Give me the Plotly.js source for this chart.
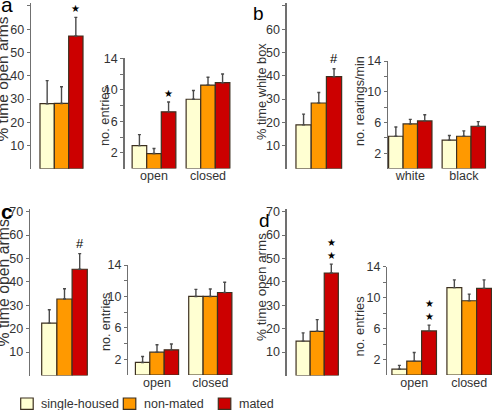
<!DOCTYPE html>
<html><head><meta charset="utf-8">
<script src="https://cdn.plot.ly/plotly-3.0.1.min.js"></script>
<style>html,body{margin:0;padding:0;background:#fff}#chart{width:492px;height:410px}</style>
</head><body><div id="chart"></div>
<script>
// ---- data ----
const groups = ['single-housed', 'non-mated', 'mated'];
const colors = ['#FFFFD2', '#FF9900', '#CC0000'];

// panel a
const aTimeOpen = [28.0, 28.1, 57.1];
const aTimeOpenErr = [9.9, 7.2, 8.0];
const aCats = ['open', 'closed'];
const aEntries = [[2.9, 8.8], [1.9, 10.6], [7.2, 10.9]];
const aEntriesErr = [[1.4, 1.1], [0.65, 1.0], [1.25, 1.1]];
// panel b
const bWhiteBox = [18.9, 28.3, 39.6];
const bWhiteBoxErr = [4.6, 4.5, 3.4];
const bCats = ['white', 'black'];
const bRearings = [[4.2, 3.7], [5.8, 4.2], [6.2, 5.5]];
const bRearingsErr = [[1.2, 0.6], [0.6, 0.7], [0.8, 0.6]];
// panel c
const cTimeOpen = [22.4, 32.7, 45.4];
const cTimeOpenErr = [5.7, 4.4, 6.7];
const cCats = ['open', 'closed'];
const cEntries = [[1.6, 10.0], [2.9, 10.0], [3.2, 10.5]];
const cEntriesErr = [[0.75, 0.9], [0.95, 0.95], [0.75, 1.3]];
// panel d
const dTimeOpen = [14.7, 18.9, 43.8];
const dTimeOpenErr = [3.5, 5.0, 3.8];
const dCats = ['open', 'closed'];
const dEntries = [[0.75, 11.3], [1.8, 9.6], [5.7, 11.2]];
const dEntriesErr = [[0.5, 1.0], [1.1, 0.85], [0.75, 1.1]];

const pctTicks = [10, 20, 30, 40, 50, 60, 70];
const cntTicks = [2, 4, 6, 8, 10, 12, 14];
const cntTickText = ['2', '', '6', '', '10', '', '14'];

// ---- layout helpers ----
const W = 492, H = 410, BARGAP = 0.19;
const FONT = 'Liberation Sans, Arial, sans-serif';
const outline = '#3d3020', errColor = '#4a4a4a', axisColor = '#707070', textColor = '#333';

const panels = [
  {n: '',  axisX: 31,    rightX: 95,  c0: 61.5,  cw: 53.1, zeroPx: 168.8, refVal: 70, refPx: 6,     top: 71.3, pct: true},
  {n: '2', axisX: 124.5, rightX: 245, c0: 154,   cw: 54,   zeroPx: 168.5, refVal: 14, refPx: 58.3,  top: 14,   pct: false, cats: aCats},
  {n: '3', axisX: 286.7, rightX: 352, c0: 318.8, cw: 56.4, zeroPx: 168.8, refVal: 70, refPx: 6,     top: 71.3, pct: true},
  {n: '4', axisX: 388,   rightX: 492, c0: 410.3, cw: 53.5, zeroPx: 168.5, refVal: 14, refPx: 61,    top: 14,   pct: false, cats: bCats},
  {n: '5', axisX: 30,    rightX: 100, c0: 64.5,  cw: 56.3, zeroPx: 375.5, refVal: 70, refPx: 211.7, top: 71.3, pct: true},
  {n: '6', axisX: 128.3, rightX: 245, c0: 157,   cw: 53.3, zeroPx: 375,   refVal: 14, refPx: 265,   top: 14,   pct: false, cats: cCats},
  {n: '7', axisX: 286.7, rightX: 352, c0: 317.2, cw: 52.2, zeroPx: 375.5, refVal: 70, refPx: 211.7, top: 71.3, pct: true},
  {n: '8', axisX: 387.3, rightX: 492, c0: 414.2, cw: 55,   zeroPx: 375,   refVal: 14, refPx: 266.7, top: 14,   pct: false, cats: dCats}
];

const traces = [];
function addBars(pi, cats, vals, errs) {
  const p = panels[pi];
  groups.forEach((g, i) => {
    traces.push({
      type: 'bar', name: g, x: cats, y: vals[i],
      xaxis: 'x' + p.n, yaxis: 'y' + p.n,
      marker: {color: colors[i], line: {color: outline, width: 1.2}},
      error_y: {type: 'data', symmetric: false, array: errs[i], arrayminus: cats.map(() => 0),
                color: errColor, thickness: 1.4, width: 1.5},
      showlegend: false, hoverinfo: 'skip'
    });
  });
}
const single = ['all'];
addBars(0, single, aTimeOpen.map(v => [v]), aTimeOpenErr.map(v => [v]));
addBars(1, aCats, aEntries, aEntriesErr);
addBars(2, single, bWhiteBox.map(v => [v]), bWhiteBoxErr.map(v => [v]));
addBars(3, bCats, bRearings, bRearingsErr);
addBars(4, single, cTimeOpen.map(v => [v]), cTimeOpenErr.map(v => [v]));
addBars(5, cCats, cEntries, cEntriesErr);
addBars(6, single, dTimeOpen.map(v => [v]), dTimeOpenErr.map(v => [v]));
addBars(7, dCats, dEntries, dEntriesErr);

const layout = {
  width: W, height: H, margin: {l: 0, r: 0, t: 0, b: 0},
  paper_bgcolor: '#fff', plot_bgcolor: 'rgba(0,0,0,0)',
  barmode: 'group', bargap: BARGAP, bargroupgap: 0,
  font: {family: FONT, color: textColor},
  showlegend: false, annotations: [], shapes: []
};

panels.forEach(p => {
  const ppu = (p.zeroPx - p.refPx) / p.refVal;
  layout['xaxis' + p.n] = {
    domain: [p.axisX / W, p.rightX / W],
    range: [(p.axisX - p.c0) / p.cw, (p.rightX - p.c0) / p.cw],
    type: 'category', anchor: 'y' + p.n,
    showline: false, showgrid: false, zeroline: false, ticks: '',
    ticklabelstandoff: -2,
    showticklabels: !p.pct, tickfont: {size: 12.5, color: textColor, family: FONT}
  };
  layout['yaxis' + p.n] = {
    domain: [1 - p.zeroPx / H, 1 - (p.zeroPx - p.top * ppu) / H],
    range: [0, p.top], anchor: 'x' + p.n,
    showline: true, linecolor: axisColor, linewidth: 1.3,
    showgrid: false, zeroline: false,
    ticks: 'outside', ticklen: 3, tickcolor: axisColor, tickwidth: 1,
    tickmode: 'array',
    tickvals: p.pct ? pctTicks : cntTicks,
    ticktext: p.pct ? pctTicks.map(String) : cntTickText,
    tickfont: {size: 12.5, color: textColor, family: FONT}
  };
});

// y-axis titles (paper coords, px)
function ytitle(text, cx, cy, size) {
  layout.annotations.push({text: text, xref: 'paper', yref: 'paper', x: cx / W, y: 1 - cy / H,
    xanchor: 'center', yanchor: 'middle', textangle: -90, showarrow: false,
    font: {size: size, color: textColor, family: FONT}});
}
ytitle('% time open arms', 2.5, 79, 15.5);
ytitle('no. entries', 104.5, 116.5, 12.8);
ytitle('% time white box', 262, 92, 12.8);
ytitle('no. rearings/min', 360, 101, 12.5);
ytitle('% time open arms', 2.5, 283, 15.8);
ytitle('no. entries', 106, 322, 12.5);
ytitle('% time open arms', 261, 287, 13.4);
ytitle('no. entries', 358.5, 327, 12.9);

// panel letters (y = baseline px)
function letter(t, x, base, size, bold) {
  layout.annotations.push({text: bold ? '<b>' + t + '</b>' : t, xref: 'paper', yref: 'paper',
    x: x / W, y: 1 - (base + 0.212 * size + 1) / H, xanchor: 'left', yanchor: 'bottom', showarrow: false,
    font: {size: size, color: '#000', family: FONT}});
}
letter('a', -1.5, 13, 21, false);
letter('b', 250.5, 20.5, 19, false);
letter('c', -1.5, 219.5, 21, true);
letter('d', 256.5, 228, 19, false);

// significance marks, anchored just above the mated bar's error bar
const redOffset = (1 - BARGAP) / 3;
function mark(pi, catIdx, val, err, text, size, family) {
  const p = panels[pi];
  layout.annotations.push({text: text, xref: 'x' + p.n, yref: 'y' + p.n,
    x: catIdx + redOffset, y: val + err, xanchor: 'center', yanchor: 'bottom', yshift: 1,
    showarrow: false, font: {size: size, color: '#000', family: family}});
}
mark(0, 0, aTimeOpen[2], aTimeOpenErr[2], '★', 10, 'DejaVu Sans');
mark(1, 0, aEntries[2][0], aEntriesErr[2][0], '★', 10, 'DejaVu Sans');
mark(2, 0, bWhiteBox[2], bWhiteBoxErr[2], '#', 13, FONT);
mark(4, 0, cTimeOpen[2], cTimeOpenErr[2], '#', 13, FONT);
mark(6, 0, dTimeOpen[2], dTimeOpenErr[2], '★<br>★', 10, 'DejaVu Sans');
mark(7, 0, dEntries[2][0], dEntriesErr[2][0], '★<br>★', 10, 'DejaVu Sans');

// legend (manual, drawn from the series names / colours)
const legBoxL = [20.7, 123.3, 218.3];
groups.forEach((g, i) => {
  const x0 = legBoxL[i];
  layout.shapes.push({type: 'rect', xref: 'paper', yref: 'paper',
    x0: x0 / W, x1: (x0 + 12.5) / W, y0: 1 - 409.3 / H, y1: 1 - 398 / H,
    fillcolor: colors[i], line: {color: outline, width: 1.2}});
  layout.annotations.push({text: g, xref: 'paper', yref: 'paper', x: (x0 + 18.5) / W, y: 1 - 403.5 / H,
    xanchor: 'left', yanchor: 'middle', showarrow: false,
    font: {size: 12.5, color: textColor, family: FONT}});
});

Plotly.newPlot('chart', traces, layout, {staticPlot: true, displayModeBar: false});
</script></body></html>
